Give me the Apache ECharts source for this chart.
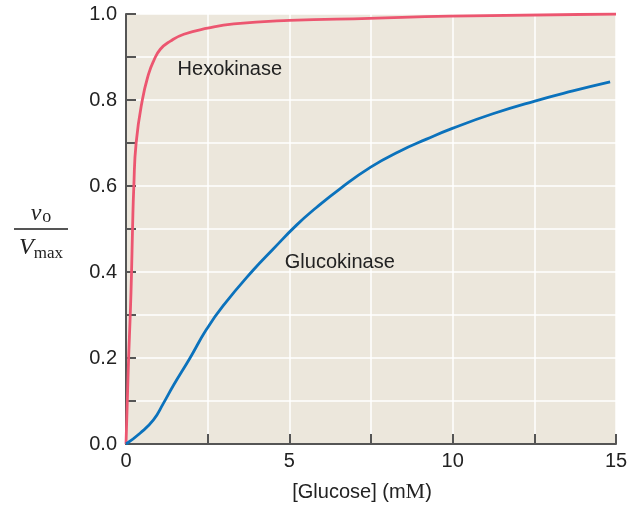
<!DOCTYPE html>
<html><head><meta charset="utf-8">
<script src="https://cdn.jsdelivr.net/npm/echarts@6/dist/echarts.min.js"></script>
<style>html,body{margin:0;padding:0;background:#fff}#c{width:644px;height:508px}</style>
</head><body><div id="c"></div>
<script>
// Hexokinase: [glucose mM, v0/Vmax]
const hexokinase = [[0,0],[0.04,0.1],[0.08,0.2],[0.13,0.3],[0.17,0.4],[0.2,0.5],[0.24,0.6],[0.31,0.7],[0.5,0.8],[0.69,0.86],[0.84,0.89],[1.05,0.918],[1.36,0.937],[1.77,0.953],[2.5,0.967],[3.3,0.977],[5.0,0.985],[7.45,0.99],[9.9,0.995],[15,1.0]];
const glucokinase = [[0,0],[0.43,0.025],[0.84,0.056],[1.14,0.094],[1.45,0.136],[1.96,0.2],[2.46,0.266],[2.97,0.321],[3.89,0.404],[4.5,0.453],[5.22,0.509],[5.83,0.55],[6.54,0.593],[7.49,0.644],[8.38,0.681],[9.2,0.709],[9.99,0.734],[11.23,0.768],[12.49,0.797],[13.68,0.821],[14.82,0.842]];
const xTickLabels = [0,5,10,15];
const yTickLabels = [0,0.2,0.4,0.6,0.8,1.0];
const seriesNames = ['Hexokinase','Glucokinase'];
const labelAnchors = [[1.58,0.872],[4.86,0.422]];

const font = '"Liberation Sans", Arial, sans-serif';
const serif = '"Liberation Serif","DejaVu Serif",serif';
const chart = echarts.init(document.getElementById('c'));
function seriesLabel(i){
  return {symbol:'rect',symbolSize:1,itemStyle:{color:'rgba(0,0,0,0)'},silent:true,
    data:[{coord:labelAnchors[i],value:seriesNames[i],
      label:{show:true,position:'inside',align:'left',verticalAlign:'middle',formatter:seriesNames[i],color:'#222',fontSize:20,fontFamily:font}}]};
}
chart.setOption({
  animation:false,
  grid:{left:126,right:28,top:14,bottom:64,show:true,backgroundColor:'#ECE7DC',borderWidth:0},
  xAxis:{type:'value',min:0,max:15,interval:2.5,
    axisLine:{show:true,lineStyle:{color:'#555',width:2}},
    axisTick:{show:true,inside:true,length:10,lineStyle:{color:'#555',width:2}},
    splitLine:{show:true,lineStyle:{color:'#fff',width:1.5}},
    axisLabel:{color:'#222',fontSize:20,fontFamily:font,margin:7,
      formatter:v=>xTickLabels.includes(v)?String(v):''},
    name:'{a|[Glucose] (m}{m|M}{a|)}',nameLocation:'middle',nameGap:37,
    nameTextStyle:{padding:[0,18,0,0],rich:{a:{fontSize:20,fontFamily:font,color:'#222'},m:{fontSize:22,fontFamily:serif,color:'#222'}}}
  },
  yAxis:{type:'value',min:0,max:1,interval:0.1,
    axisLine:{show:true,lineStyle:{color:'#555',width:2}},
    axisTick:{show:true,inside:true,length:10,lineStyle:{color:'#555',width:2}},
    splitLine:{show:true,lineStyle:{color:'#fff',width:1.5}},
    axisLabel:{color:'#222',fontSize:20,fontFamily:font,margin:9,
      formatter:v=>yTickLabels.some(t=>Math.abs(t-v)<1e-6)?v.toFixed(1):''}
  },
  graphic:[
    {type:'text',x:41,y:214,style:{text:'{i|v}{s|o}',align:'center',verticalAlign:'middle',
      rich:{i:{fontSize:24,fontStyle:'italic',fontFamily:serif,fill:'#222',verticalAlign:'bottom'},
            s:{fontSize:18,fontFamily:serif,fill:'#222',verticalAlign:'bottom',padding:[0,0,0,1]}}}},
    {type:'line',shape:{x1:14,y1:229,x2:68,y2:229},style:{stroke:'#555',lineWidth:2}},
    {type:'text',x:41,y:248,style:{text:'{i|V}{s|max}',align:'center',verticalAlign:'middle',
      rich:{i:{fontSize:24,fontStyle:'italic',fontFamily:serif,fill:'#222',verticalAlign:'bottom'},
            s:{fontSize:17,fontFamily:serif,fill:'#222',verticalAlign:'bottom',padding:[0,0,-2,0]}}}}
  ],
  series:[
    {name:seriesNames[0],type:'line',data:hexokinase,smooth:0.5,showSymbol:false,
      lineStyle:{color:'#EC5670',width:2.8},z:3,markPoint:seriesLabel(0)},
    {name:seriesNames[1],type:'line',data:glucokinase,smooth:0.5,showSymbol:false,
      lineStyle:{color:'#0B72BC',width:2.8},z:3,markPoint:seriesLabel(1)}
  ]
});
</script></body></html>
